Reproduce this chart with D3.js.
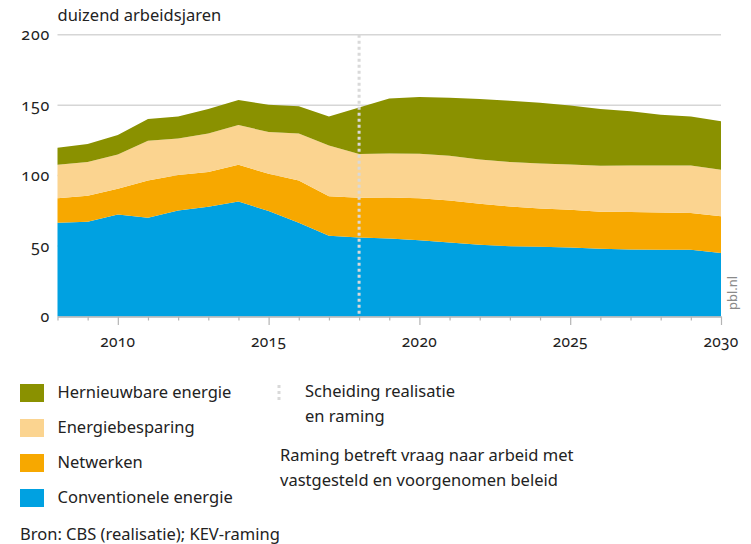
<!DOCTYPE html>
<html>
<head>
<meta charset="utf-8">
<script src="https://cdn.jsdelivr.net/npm/d3@7"></script>
<style>
  html, body { margin: 0; padding: 0; background: #fff; }
  svg { display: block; font-family: "Noto Sans", "Open Sans", sans-serif; }
  .num { font-feature-settings: "onum"; font-variant-numeric: oldstyle-nums; }
</style>
</head>
<body>
<svg id="chart" width="751" height="544"></svg>
<script>
// Werkgelegenheid in de energiesector (duizend arbeidsjaren)
const years = [2008, 2009, 2010, 2011, 2012, 2013, 2014, 2015, 2016, 2017, 2018, 2019,
               2020, 2021, 2022, 2023, 2024, 2025, 2026, 2027, 2028, 2029, 2030];
const conventioneel = [66.5, 67.2, 72.4, 70.1, 75.3, 77.9, 81.7, 74.8, 66.5, 57.3, 56.1, 55.4,
                       54.2, 52.5, 50.9, 49.9, 49.5, 49.0, 48.0, 47.6, 47.3, 47.3, 45.0];
const netwerken = [17.5, 18.5, 18.3, 26.5, 25.1, 24.6, 26.0, 26.5, 30.1, 28.1, 28.2, 29.1,
                   29.8, 29.9, 29.1, 28.2, 27.2, 26.7, 26.3, 26.5, 26.5, 26.1, 26.2];
const besparing = [23.7, 23.9, 24.3, 28.1, 26.0, 27.4, 28.2, 29.6, 33.3, 36.0, 31.0, 31.2,
                   31.5, 31.7, 31.5, 31.5, 31.9, 32.2, 32.7, 33.1, 33.4, 33.8, 32.9];
const hernieuwbaar = [12.1, 12.8, 13.8, 15.4, 15.6, 17.3, 17.7, 19.4, 19.4, 20.6, 33.1, 39.1,
                      40.2, 41.2, 42.8, 43.5, 43.1, 41.9, 40.2, 38.4, 36.0, 34.8, 34.4];

const seriesKeys = ["conv", "netw", "besp", "hern"];
const seriesNames = {
  hern: "Hernieuwbare energie",
  besp: "Energiebesparing",
  netw: "Netwerken",
  conv: "Conventionele energie"
};
const seriesColors = { conv: "#00a1e1", netw: "#f7a800", besp: "#fbd490", hern: "#8a9100" };

const yTicks = [0, 50, 100, 150, 200];
const xLabelYears = [2010, 2015, 2020, 2025, 2030];
const splitYear = 2018;

const rows = years.map((y, i) => ({
  year: y, conv: conventioneel[i], netw: netwerken[i], besp: besparing[i], hern: hernieuwbaar[i]
}));

const svg = d3.select("#chart");

const x = d3.scaleLinear().domain([2008, 2030]).range([57.5, 721]);
const y = d3.scaleLinear().domain([0, 200]).range([316.5, 34.7]);

// titel
svg.append("text").attr("x", 57.5).attr("y", 21).attr("font-size", 16.5).attr("fill", "#222")
  .text("duizend arbeidsjaren");

// horizontale rasterlijnen
svg.append("g").selectAll("line").data(yTicks.filter(d => d > 0)).join("line")
  .attr("x1", x(2008)).attr("x2", x(2030))
  .attr("y1", d => y(d)).attr("y2", d => y(d))
  .attr("stroke", "#d6d6d6").attr("stroke-width", 1.5);

// gestapelde vlakken
const stacked = d3.stack().keys(seriesKeys)(rows);
const area = d3.area()
  .x(d => x(d.data.year))
  .y0(d => y(d[0]))
  .y1(d => y(d[1]));
svg.append("g").selectAll("path").data(stacked).join("path")
  .attr("d", area)
  .attr("fill", d => seriesColors[d.key]);

// scheiding realisatie en raming
svg.append("line")
  .attr("x1", x(splitYear)).attr("x2", x(splitYear))
  .attr("y1", y(200)).attr("y2", y(0))
  .attr("stroke", "#d9d9d9").attr("stroke-width", 3).attr("stroke-dasharray", "3,3");

// y-as labels
svg.append("g").selectAll("text").data(yTicks).join("text")
  .attr("class", "num")
  .attr("x", 50).attr("y", d => y(d)).attr("dy", "0.35em")
  .attr("text-anchor", "end").attr("font-size", 16).attr("letter-spacing", 0.8).attr("fill", "#222")
  .text(d => d);

// x-as
const xAxis = d3.axisBottom(x)
  .tickValues(d3.range(2008, 2031))
  .tickFormat("")
  .tickSize(4)
  .tickSizeOuter(0);
const gx = svg.append("g").attr("transform", `translate(0,${y(0)})`).call(xAxis);
gx.select(".domain").attr("stroke", "#b4b4b4").attr("stroke-width", 1.5);
gx.selectAll(".tick line").attr("stroke", "#b4b4b4").attr("stroke-width", 1.2)
  .attr("y2", d => (d % 5 === 0) ? 8.5 : 4);

svg.append("g").selectAll("text").data(xLabelYears).join("text")
  .attr("class", "num")
  .attr("x", d => x(d)).attr("y", 347)
  .attr("text-anchor", "middle").attr("font-size", 15.5).attr("letter-spacing", 0.3).attr("fill", "#222")
  .text(d => d);

// bronvermelding aan de rand
svg.append("text")
  .attr("transform", `translate(737,293) rotate(-90)`)
  .attr("text-anchor", "middle").attr("font-size", 13).attr("fill", "#8a8a8a")
  .text("pbl.nl");

// legenda
const legendOrder = ["hern", "besp", "netw", "conv"];
const lg = svg.append("g").selectAll("g").data(legendOrder).join("g")
  .attr("transform", (d, i) => `translate(20,${384 + i * 35})`);
lg.append("rect").attr("width", 24).attr("height", 18).attr("fill", d => seriesColors[d]);
lg.append("text").attr("x", 37.5).attr("y", 13.5).attr("font-size", 16.5).attr("fill", "#222")
  .text(d => seriesNames[d]);

svg.append("line")
  .attr("x1", 279).attr("x2", 279).attr("y1", 385).attr("y2", 403)
  .attr("stroke", "#d9d9d9").attr("stroke-width", 3).attr("stroke-dasharray", "3,3");
svg.append("text").attr("x", 305).attr("y", 397).attr("font-size", 16.5).attr("fill", "#222")
  .text("Scheiding realisatie");
svg.append("text").attr("x", 305).attr("y", 422).attr("font-size", 16.5).attr("fill", "#222")
  .text("en raming");
svg.append("text").attr("x", 280).attr("y", 461).attr("font-size", 16.5).attr("fill", "#222")
  .text("Raming betreft vraag naar arbeid met");
svg.append("text").attr("x", 280).attr("y", 486).attr("font-size", 16.5).attr("fill", "#222")
  .text("vastgesteld en voorgenomen beleid");

svg.append("text").attr("x", 20).attr("y", 540).attr("font-size", 16.5).attr("fill", "#222")
  .text("Bron: CBS (realisatie); KEV-raming");
</script>
</body>
</html>
